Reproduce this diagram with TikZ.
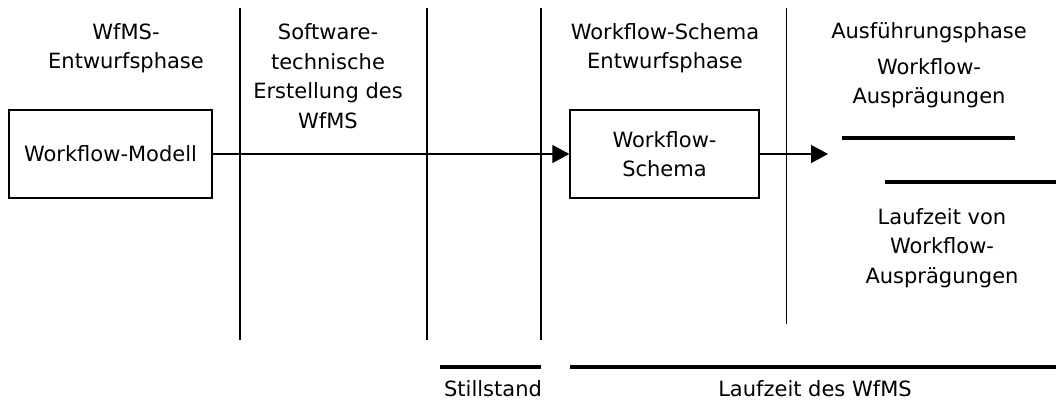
\documentclass[tikz,border=0pt]{standalone}
\usepackage{fontspec}
\setmainfont{DejaVu Sans}
\usetikzlibrary{arrows.meta}
\begin{document}
\begin{tikzpicture}[x=1pt,y=-1pt,
  every node/.style={font=\fontsize{21}{29.5}\selectfont, align=center, inner sep=0pt},
  box/.style={draw, line width=1.3pt, minimum height=88pt},
  divider/.style={line width=1.2pt},
  conn/.style={line width=1.2pt, -{Triangle[length=17pt,width=18pt]}},
  bar/.style={line width=4pt}]
\useasboundingbox (0,0) rectangle (1056,403);
% dividers
\draw[divider] (240,8) -- (240,340);
\draw[divider] (427,8) -- (427,340);
\draw[divider] (541,8) -- (541,340);
\draw[divider] (786.5,8) -- (786.5,324);
% headings
\node (h1) at (126,48) {WfMS-\\Entwurfsphase};
\node (h2) at (328,76) {Software-\\technische\\Erstellung des\\WfMS};
\node (h3) at (665,48) {Workflow-Schema\\Entwurfsphase};
\node (h4) at (929,33) {Ausführungsphase};
\node (h5) at (929,83) {Workflow-\\Ausprägungen};
% boxes
\node[box, minimum width=203pt] (m) at (110.5,154) {Workflow-Modell};
\node[box, minimum width=189pt] (s) at (664.5,154) {Workflow-\\Schema};
\coordinate (e) at (828,154);
\draw[conn] (m.east) -- (s.west);
\draw[conn] (s.east) -- (e);
% bars on right
\draw[bar] (842,138) -- (1015,138);
\draw[bar] (885,182) -- (1056,182);
\node (l1) at (942,248) {Laufzeit von\\Workflow-\\Ausprägungen};
% bottom bars
\draw[bar] (440,367) -- (541,367);
\draw[bar] (570,367) -- (1056,367);
\node (st) at (493,389) {Stillstand};
\node (lw) at (815,389) {Laufzeit des WfMS};
\end{tikzpicture}
\end{document}
